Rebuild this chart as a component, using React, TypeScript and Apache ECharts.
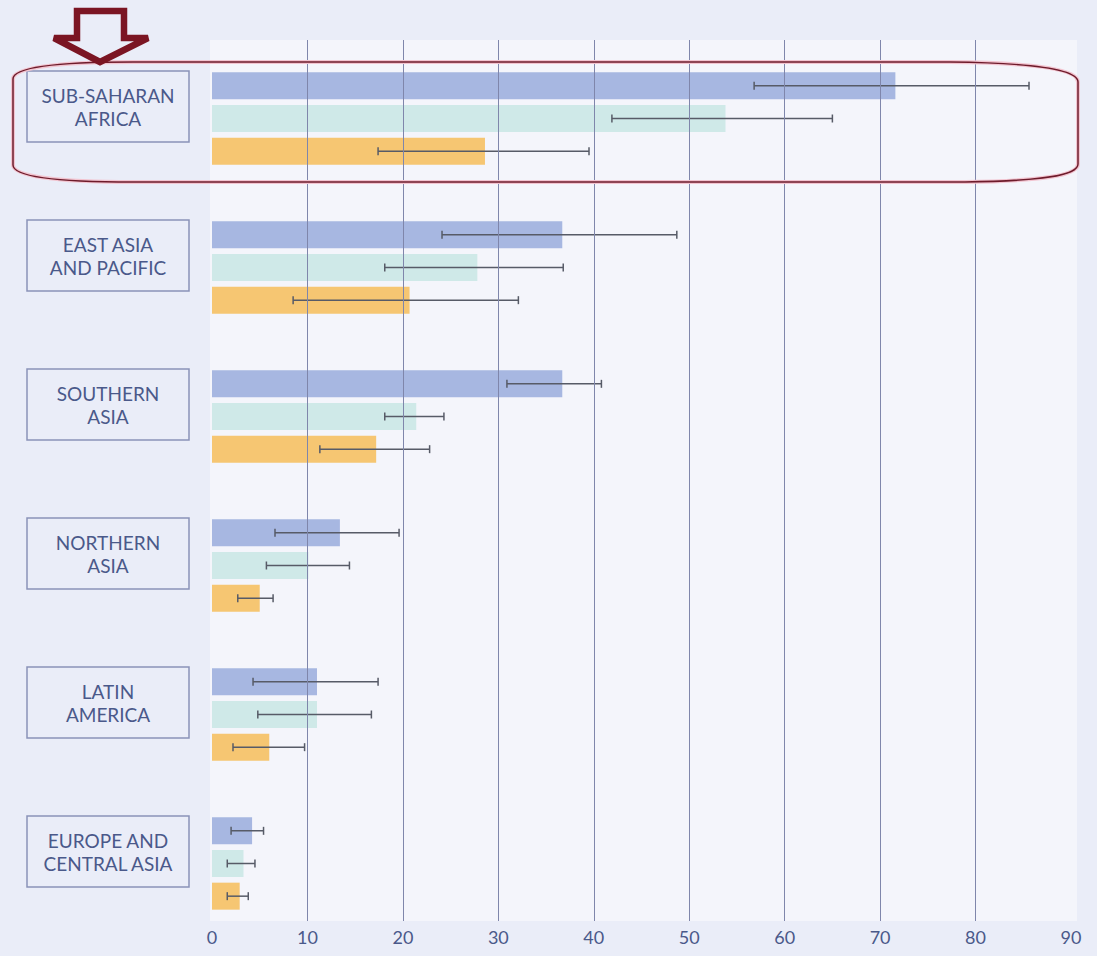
import React, { useEffect, useRef } from "react";
import * as echarts from "echarts";

// ---------------- data ----------------
const categories = [
  "SUB-SAHARAN\nAFRICA",
  "EAST ASIA\nAND PACIFIC",
  "SOUTHERN\nASIA",
  "NORTHERN\nASIA",
  "LATIN\nAMERICA",
  "EUROPE AND\nCENTRAL ASIA",
];
const xTickValues = [0, 10, 20, 30, 40, 50, 60, 70, 80, 90];

const blueValues = [71.6, 36.7, 36.7, 13.4, 11.0, 4.2];
const blueLow = [56.8, 24.1, 30.9, 6.6, 4.3, 2.0];
const blueHigh = [85.6, 48.7, 40.8, 19.6, 17.4, 5.4];

const tealValues = [53.8, 27.8, 21.4, 10.1, 11.0, 3.3];
const tealLow = [41.9, 18.1, 18.1, 5.7, 4.8, 1.6];
const tealHigh = [65.0, 36.8, 24.3, 14.4, 16.7, 4.5];

const orangeValues = [28.6, 20.7, 17.2, 5.0, 6.0, 2.9];
const orangeLow = [17.4, 8.5, 11.3, 2.7, 2.2, 1.6];
const orangeHigh = [39.5, 32.1, 22.8, 6.4, 9.7, 3.8];

// ---------------- styles ----------------
const BLUE = "#a7b7e1";
const TEAL = "#cfe9e8";
const ORANGE = "#f6c672";
const TEXT = "#4a598a";
const BAR_W = 27;
const BAR_GAP = 0.21;

const HILITE_D =
  "M133,62 L950,62 C1040,63 1078,70 1078,82 L1078,164 C1078,176 1040,181 965,182 L133,182 C60,182 13,177 13,165 L13,79 C13,67 60,62 133,62 Z";

let registered = false;
function registerShapes() {
  if (registered) return;
  echarts.graphic.registerShape("hilite", echarts.graphic.extendPath(HILITE_D, {}));
  registered = true;
}

function errorSeries(low: number[], high: number[], slot: number) {
  const data = low.map((l, i) => [i, l, high[i]]);
  return {
    type: "custom",
    xAxisIndex: 0,
    yAxisIndex: 0,
    z: 4,
    encode: { x: [1, 2], y: 0 },
    data,
    renderItem: (params: any, api: any) => {
      const cat = api.value(0);
      const lo = api.coord([api.value(1), cat]);
      const hi = api.coord([api.value(2), cat]);
      const off = (slot - 1) * BAR_W * (1 + BAR_GAP);
      const y = lo[1] + off;
      const cap = 4;
      const style = { stroke: "#575b67", lineWidth: 1.5 };
      return {
        type: "group",
        children: [
          { type: "line", shape: { x1: lo[0], y1: y, x2: hi[0], y2: y }, style },
          { type: "line", shape: { x1: lo[0], y1: y - cap, x2: lo[0], y2: y + cap }, style },
          { type: "line", shape: { x1: hi[0], y1: y - cap, x2: hi[0], y2: y + cap }, style },
        ],
      };
    },
  };
}

export default function App() {
  const ref = useRef<HTMLDivElement>(null);
  useEffect(() => {
    registerShapes();
    const chart = echarts.init(ref.current!, null, { renderer: "svg" });
    const gridL = 212;
    const gridR = 26;
    const option: any = {
      animation: false,
      backgroundColor: "#eaedf8",
      grid: [
        { left: gridL, right: gridR, top: 44, height: 894 },
        { left: gridL, right: gridR, top: 32, height: 894 },
        { left: gridL, right: gridR, top: 40, height: 881 },
      ],
      xAxis: [
        { type: "value", gridIndex: 0, min: 0, max: 90, interval: 10, show: false },
        { type: "value", gridIndex: 1, min: 0, max: 90, interval: 10, show: false },
        {
          type: "value",
          gridIndex: 2,
          min: 0,
          max: 90,
          interval: 10,
          z: 5,
          axisLine: { show: false },
          axisTick: { show: false },
          splitLine: {
            show: true,
            showMinLine: false,
            showMaxLine: false,
            lineStyle: { color: "#7f86ab", width: 1 },
          },
          axisLabel: {
            color: TEXT,
            fontSize: 18,
            fontFamily: "Lato",
            margin: 7,
            customValues: xTickValues,
          },
        },
      ],
      yAxis: [
        {
          type: "category",
          gridIndex: 0,
          inverse: true,
          data: categories,
          show: false,
        },
        {
          type: "category",
          gridIndex: 1,
          inverse: true,
          data: categories,
          axisLine: { show: false },
          axisTick: { show: false },
          axisLabel: {
            interval: 0,
            margin: gridL - 108,
            align: "center",
            verticalAlign: "middle",
            width: 162,
            height: 71,
            lineHeight: 23,
            overflow: "none",
            fontSize: 19,
            fontFamily: "Lato",
            color: TEXT,
            borderColor: "#8b93b8",
            borderWidth: 1.5,
          },
        },
        { type: "value", gridIndex: 2, min: 0, max: 1, show: false },
      ],
      graphic: [
        {
          type: "rect",
          z: -10,
          shape: { x: 210, y: 40, width: 867, height: 881 },
          style: { fill: "#f4f5fb" },
        },
        {
          type: "hilite",
          z: 50,
          x: 0,
          y: 0,
          style: { fill: "none", stroke: "#f2c4d0", lineWidth: 4 },
        },
        {
          type: "hilite",
          z: 51,
          x: 0,
          y: 0,
          style: { fill: "none", stroke: "#6e1b2b", lineWidth: 1.5 },
        },
        {
          type: "polygon",
          z: 52,
          shape: {
            points: [
              [77, 11],
              [124, 11],
              [124, 38],
              [148, 38],
              [100, 62],
              [54, 38],
              [77, 38],
            ],
          },
          style: { fill: "none", stroke: "#7b1523", lineWidth: 6.5, lineJoin: "miter" },
        },
      ],
      series: [
        {
          type: "bar",
          name: "Blue",
          xAxisIndex: 0,
          yAxisIndex: 0,
          data: blueValues,
          barWidth: BAR_W,
          barGap: "21%",
          itemStyle: { color: BLUE },
        },
        {
          type: "bar",
          name: "Teal",
          xAxisIndex: 0,
          yAxisIndex: 0,
          data: tealValues,
          barWidth: BAR_W,
          barGap: "21%",
          itemStyle: { color: TEAL },
        },
        {
          type: "bar",
          name: "Orange",
          xAxisIndex: 0,
          yAxisIndex: 0,
          data: orangeValues,
          barWidth: BAR_W,
          barGap: "21%",
          itemStyle: { color: ORANGE },
        },
        errorSeries(blueLow, blueHigh, 0),
        errorSeries(tealLow, tealHigh, 1),
        errorSeries(orangeLow, orangeHigh, 2),
      ],
    };
    chart.setOption(option);
    return () => chart.dispose();
  }, []);
  return (
    <div
      ref={ref}
      style={{ position: "fixed", left: 0, top: 0, width: 1097, height: 956 }}
    />
  );
}
